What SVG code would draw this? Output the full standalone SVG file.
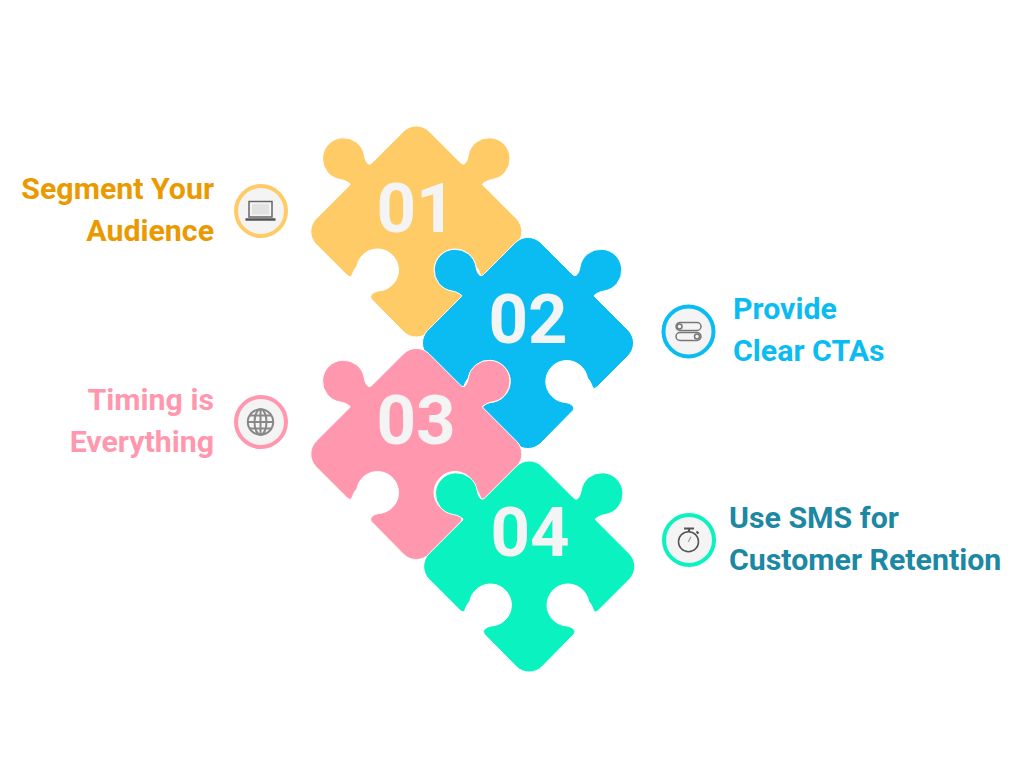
<svg xmlns="http://www.w3.org/2000/svg" width="1024" height="768" viewBox="0 0 1024 768">
<style>
.num{font-family:Roboto,"Liberation Sans",sans-serif;font-weight:700;font-size:69px;fill:#f4f4f4;text-anchor:middle}
.lab{font-family:Roboto,"Liberation Sans",sans-serif;font-weight:700;font-size:30.300px}
.end{text-anchor:end}
.piece{stroke:#fff;stroke-width:1}
.ring{fill:#f4f4f4;stroke-width:4}
.ic{fill:none;stroke:#777;stroke-width:1.5}
</style>
<defs>
<path id="p" d="M-12.7,-100.3 A18,18 0 0 1 12.7,-100.3 L43.5,-69.5 Q47,-65.5 49.5,-69 Q51.5,-72 52,-76 A21,21 0 1 1 76,-52 Q72,-51.500 69,-49.500 Q65,-47.500 66.500,-46.500 L100.3,-12.7 A18,18 0 0 1 100.3,12.7 L69.5,43.5 Q65.5,47 64.500,44 Q62,37 59.5,35 A21,21 0 1 0 38,59.500 Q42,60 45,63 Q46.500,65 45,67.500 L12.7,100.3 A18,18 0 0 1 -12.7,100.3 L-45,67.500 Q-46.500,65 -45,63 Q-42,60 -38,59.500 A21,21 0 1 0 -59.5,35 Q-62,37 -64.500,44 Q-65.500,47 -69.5,43.5 L-100.3,12.7 A18,18 0 0 1 -100.3,-12.7 L-66.500,-46.500 Q-65,-47.500 -69,-49.500 Q-72,-51.500 -76,-52 A21,21 0 1 1 -52,-76 Q-51.500,-72 -49.500,-69 Q-47,-65.500 -43.5,-69.5 Z"/>
</defs>
<g id="connectors"></g>
<g id="node-01">
<use href="#p" x="416.300" y="231.500" class="piece" fill="#ffcb66"/>
<text class="num" x="416" y="232">01</text>
<text class="lab end" x="214" y="199" fill="#ea9a00">Segment Your</text>
<text class="lab end" x="214" y="241" fill="#ea9a00">Audience</text>
<circle class="ring" cx="261" cy="211" r="25" stroke="#ffcb66"/>
<rect class="ic" x="249" y="201.500" width="23" height="15.500" style="stroke:#666"/>
<rect x="252" y="204" width="17" height="10.500" fill="#e2e2e2"/>
<path class="ic" d="M245.500,219.500H275.500" style="stroke:#555;stroke-width:2.500"/>
</g>
<g id="node-02">
<use href="#p" x="528" y="343" class="piece" fill="#0abcf2"/>
<text class="num" x="528" y="343">02</text>
<text class="lab" x="733" y="318.500" fill="#0abcf2">Provide</text>
<text class="lab" x="733" y="360.500" fill="#0abcf2">Clear CTAs</text>
<circle class="ring" cx="688.500" cy="331.500" r="25" stroke="#0abcf2"/>
<rect class="ic" x="676" y="322.500" width="25" height="8" rx="4"/>
<rect class="ic" x="676" y="332.500" width="25" height="8" rx="4"/>
<circle class="ic" cx="679.500" cy="326.500" r="2.500"/>
<circle class="ic" cx="697" cy="336.500" r="2.500"/>
</g>
<g id="node-03">
<use href="#p" x="416.300" y="454" class="piece" fill="#ff98ae"/>
<text class="num" x="416" y="444">03</text>
<text class="lab end" x="214" y="410" fill="#ff98ae">Timing is</text>
<text class="lab end" x="214" y="452" fill="#ff98ae">Everything</text>
<circle class="ring" cx="261" cy="422" r="25" stroke="#ff98ae"/>
<g class="ic" style="stroke:#888;stroke-width:2">
<circle cx="260.500" cy="422" r="12.700"/>
<ellipse cx="260.500" cy="422" rx="6" ry="12.700"/>
<path d="M260.500,409.500V434.500M248,422H273M250,415.500H271M250,428.500H271"/>
</g>
</g>
<g id="node-04">
<use href="#p" x="529.200" y="566.500" class="piece" fill="#0af2c0"/>
<text class="num" x="530" y="556">04</text>
<text class="lab" x="729" y="527.500" fill="#1c88a4">Use SMS for</text>
<text class="lab" x="729" y="569.500" fill="#1c88a4">Customer Retention</text>
<circle class="ring" cx="689" cy="540" r="25" stroke="#0af2c0"/>
<g class="ic" style="stroke:#555">
<circle cx="688.500" cy="541.700" r="10"/>
<path d="M684,528.500H694M689,528.500V532M696.500,531.500L698.500,533.500" style="stroke-width:2.200"/>
<path d="M688.300,541.700L691,536.700" style="stroke:#999;stroke-width:1.200"/>
</g>
</g>
</svg>
